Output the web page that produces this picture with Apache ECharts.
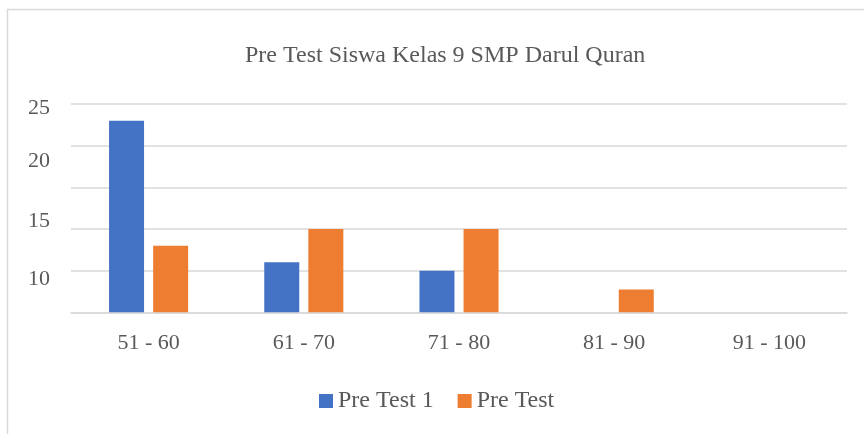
<!doctype html>
<html>
    <head>
        <meta charset="utf-8">
        <style>
            html, body { margin: 0; padding: 0; background: #fff; }
            #main { width: 864px; height: 434px; }
        </style>
    </head>
    <body>
        <div id="main"></div>
        <script src="https://cdn.jsdelivr.net/npm/echarts@6/dist/echarts.min.js"></script>
        <script>
            var categories = ['51 - 60', '61 - 70', '71 - 80', '81 - 90', '91 - 100'];
            var preTest1 = [23, 6, 5, 0, 0];
            var preTest = [8, 10, 10, 2.75, 0];
            var yLabels = [25, 20, 15, 10];

            var FONT = '"Liberation Serif", serif';
            var GREY = '#595959';

            var chart = echarts.init(document.getElementById('main'));

            // the y labels sit lower than their grid lines in the original
            function yRich(top) {
                return { fontSize: 22, color: GREY, fontFamily: FONT, padding: [top, 0, 0, 0] };
            }

            chart.setOption({
                animation: false,
                textStyle: {
                    fontFamily: FONT
                },
                graphic: [{
                    type: 'rect',
                    silent: true,
                    z: -10,
                    shape: { x: 7.5, y: 9.5, width: 1000, height: 1000 },
                    style: { fill: 'none', stroke: '#d9d9d9', lineWidth: 1.5 }
                }],
                title: {
                    text: 'Pre Test Siswa Kelas 9 SMP Darul Quran',
                    left: 240,
                    top: 39,
                    textStyle: {
                        fontFamily: FONT,
                        fontSize: 24,
                        fontWeight: 'normal',
                        color: GREY
                    }
                },
                legend: {
                    left: 319,
                    top: 389,
                    padding: 0,
                    itemWidth: 14,
                    itemHeight: 14,
                    itemGap: 24,
                    icon: 'rect',
                    textStyle: {
                        fontFamily: FONT,
                        fontSize: 24,
                        color: GREY
                    }
                },
                grid: {
                    left: 71,
                    right: 17,
                    top: 104,
                    bottom: 121.7
                },
                xAxis: {
                    type: 'category',
                    data: categories,
                    axisLine: { lineStyle: { color: '#d9d9d9', width: 1.5 } },
                    axisTick: { show: false },
                    axisLabel: {
                        margin: 20,
                        fontFamily: FONT,
                        fontSize: 22,
                        color: GREY
                    }
                },
                yAxis: {
                    type: 'value',
                    min: 0,
                    max: 25,
                    interval: 5,
                    axisLine: { show: false },
                    axisTick: { show: false },
                    splitLine: { lineStyle: { color: '#d9d9d9', width: 1.5 } },
                    axisLabel: {
                        margin: 21,
                        fontFamily: FONT,
                        fontSize: 22,
                        color: GREY,
                        formatter: function (v) {
                            return yLabels.indexOf(v) >= 0 ? '{v' + v + '|' + v + '}' : '';
                        },
                        rich: {
                            v25: yRich(8),
                            v20: yRich(31),
                            v15: yRich(67),
                            v10: yRich(100)
                        }
                    }
                },
                series: [{
                    name: 'Pre Test 1',
                    type: 'bar',
                    data: preTest1,
                    barWidth: 35,
                    barGap: '26%',
                    itemStyle: { color: '#4472C4' }
                }, {
                    name: 'Pre Test',
                    type: 'bar',
                    data: preTest,
                    barWidth: 35,
                    itemStyle: { color: '#ED7D31' }
                }]
            });

            window.addEventListener('resize', function () {
                chart.resize();
            });
        </script>
    </body>
</html>
